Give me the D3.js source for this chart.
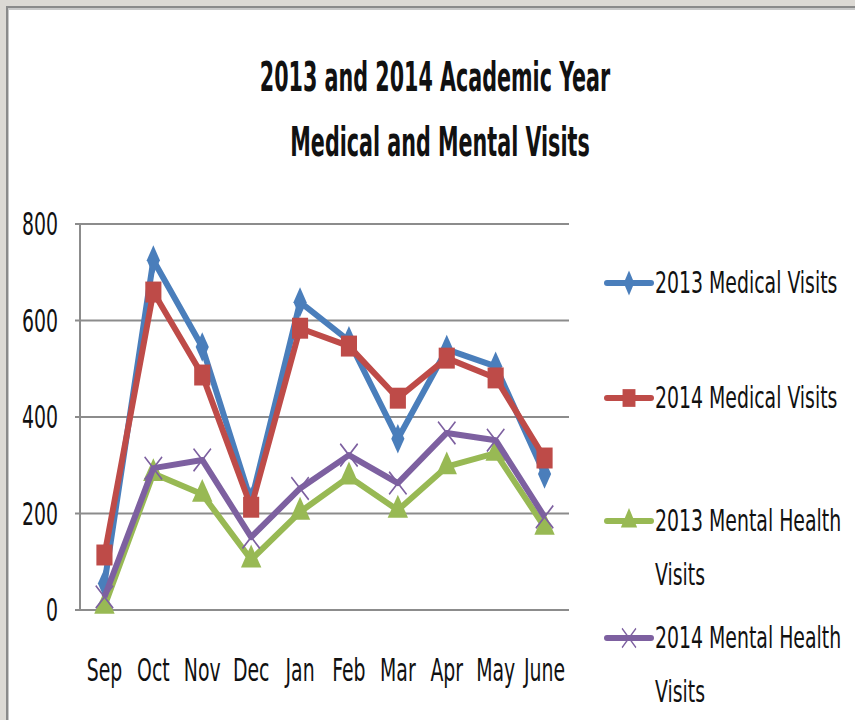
<!DOCTYPE html>
<html>
<head>
	<script type="text/javascript" src="https://cdn.jsdelivr.net/npm/d3@7"></script>
	<style>
		body { margin: 0; background: #dcd9d4; }
		text { font-family: "Liberation Sans Narrow", "DejaVu Sans Condensed", sans-serif; fill: #111; }
	</style>
</head>
<body>
	<script type="text/javascript">

		// data
		var months = ['Sep', 'Oct', 'Nov', 'Dec', 'Jan', 'Feb', 'Mar', 'Apr', 'May', 'June'];
		var medical2013 = [55, 725, 545, 225, 638, 558, 355, 540, 505, 282];
		var medical2014 = [114, 659, 487, 213, 584, 547, 439, 522, 481, 315];
		var mental2013 = [8, 283, 240, 104, 203, 276, 207, 297, 325, 172];
		var mental2014 = [27, 294, 311, 151, 252, 321, 263, 367, 352, 193];
		var seriesNames = ['2013 Medical Visits', '2014 Medical Visits', '2013 Mental Health Visits', '2014 Mental Health Visits'];
		var yTicks = [0, 200, 400, 600, 800];

		var colors = ['#4a7ebb', '#be4b48', '#98b954', '#7d60a0'];
		var shapes = ['diamond', 'square', 'triangle', 'x'];
		var allSeries = [medical2013, medical2014, mental2013, mental2014];

		var W = 855, H = 720;
		var margin = {top: 224, left: 80, right: 286, bottom: 110};
		var width = W - margin.left - margin.right;
		var height = H - margin.top - margin.bottom;

		var svg = d3.select('body')
			.append('svg')
			.attr('width', W)
			.attr('height', H)
			.style('display', 'block');

		// frame
		svg.append('rect')
			.attr('x', 6).attr('y', 6)
			.attr('width', W).attr('height', H)
			.attr('fill', '#8a8a8a');
		svg.append('rect')
			.attr('x', 8).attr('y', 8)
			.attr('width', W).attr('height', H)
			.attr('fill', '#c8c8c8');
		svg.append('rect')
			.attr('x', 9).attr('y', 10)
			.attr('width', W).attr('height', H)
			.attr('fill', '#fff');

		// the source picture is stretched vertically, so text gets a y scale
		function stretchedText(sel, x, y, str, size, ky, anchor, weight) {
			return sel.append('text')
				.attr('transform', 'translate(' + x + ',' + y + ') scale(1,' + ky + ')')
				.attr('text-anchor', anchor || 'start')
				.attr('font-size', size)
				.attr('font-weight', weight || 'normal')
				.text(str);
		}

		// title
		stretchedText(svg, 435, 91, '2013 and 2014 Academic Year', 23, 1.75, 'middle', 'bold');
		stretchedText(svg, 440, 156, 'Medical and Mental Visits', 23, 1.75, 'middle', 'bold');

		var g = svg.append('g')
			.attr('transform', 'translate(' + margin.left + ',' + margin.top + ')');

		var xScale = d3.scaleBand()
			.domain(months)
			.range([0, width]);

		var yScale = d3.scaleLinear()
			.domain([0, 800])
			.range([height, 0]);

		// gridlines
		g.selectAll('.grid')
			.data(yTicks)
			.enter()
			.append('line')
			.attr('x1', -5)
			.attr('x2', width)
			.attr('y1', function(d) { return yScale(d); })
			.attr('y2', function(d) { return yScale(d); })
			.attr('stroke', '#8c8c8c')
			.attr('stroke-width', 2);

		g.append('line')
			.attr('x1', 0).attr('x2', 0)
			.attr('y1', 0).attr('y2', height)
			.attr('stroke', '#8c8c8c')
			.attr('stroke-width', 2);

		// y labels
		yTicks.forEach(function(t) {
			stretchedText(g, -22, yScale(t) + 11, String(t), 21, 1.5, 'end');
		});

		// x labels
		months.forEach(function(m) {
			stretchedText(g, xScale(m) + xScale.bandwidth() / 2, height + 71, m, 21, 1.5, 'middle');
		});

		function markerPath(shape) {
			if (shape === 'diamond') return d3.symbol().type(d3.symbolDiamond).size(150)();
			if (shape === 'square') return d3.symbol().type(d3.symbolSquare).size(260)();
			if (shape === 'triangle') return d3.symbol().type(d3.symbolTriangle).size(180)();
			return d3.symbol().type(d3.symbolX).size(200)();
		}

		var line = d3.line()
			.x(function(d, i) { return xScale(months[i]) + xScale.bandwidth() / 2; })
			.y(function(d) { return yScale(d); });

		allSeries.forEach(function(values, s) {
			var sg = g.append('g');
			sg.append('path')
				.datum(values)
				.attr('d', line)
				.attr('fill', 'none')
				.attr('stroke', colors[s])
				.attr('stroke-width', 6)
				.attr('stroke-linejoin', 'round');

			sg.selectAll('.m')
				.data(values)
				.enter()
				.append('path')
				.attr('d', markerPath(shapes[s]))
				.attr('transform', function(d, i) {
					return 'translate(' + (xScale(months[i]) + xScale.bandwidth() / 2) + ',' + yScale(d) + ') scale(1,1.3)';
				})
				.attr('fill', shapes[s] === 'x' ? 'none' : colors[s])
				.attr('stroke', colors[s])
				.attr('stroke-width', shapes[s] === 'x' ? 1.5 : 0);
		});

		// legend
		var legendRows = [
			{y: 283, lines: ['2013 Medical Visits']},
			{y: 398, lines: ['2014 Medical Visits']},
			{y: 521, lines: ['2013 Mental Health', 'Visits']},
			{y: 638, lines: ['2014 Mental Health', 'Visits']}
		];

		legendRows.forEach(function(r, s) {
			var lg = svg.append('g');
			lg.append('line')
				.attr('x1', 607).attr('x2', 651)
				.attr('y1', r.y).attr('y2', r.y)
				.attr('stroke', colors[s])
				.attr('stroke-width', 6)
				.attr('stroke-linecap', 'round');
			lg.append('path')
				.attr('d', markerPath(shapes[s]))
				.attr('transform', 'translate(629,' + r.y + ') scale(0.8,1.1)')
				.attr('fill', shapes[s] === 'x' ? 'none' : colors[s])
				.attr('stroke', colors[s])
				.attr('stroke-width', shapes[s] === 'x' ? 1.5 : 0);
			r.lines.forEach(function(t, k) {
				stretchedText(lg, 655, r.y + 10 + k * 54, t, 21, 1.45, 'start');
			});
		});

	</script>
</body>
</html>
